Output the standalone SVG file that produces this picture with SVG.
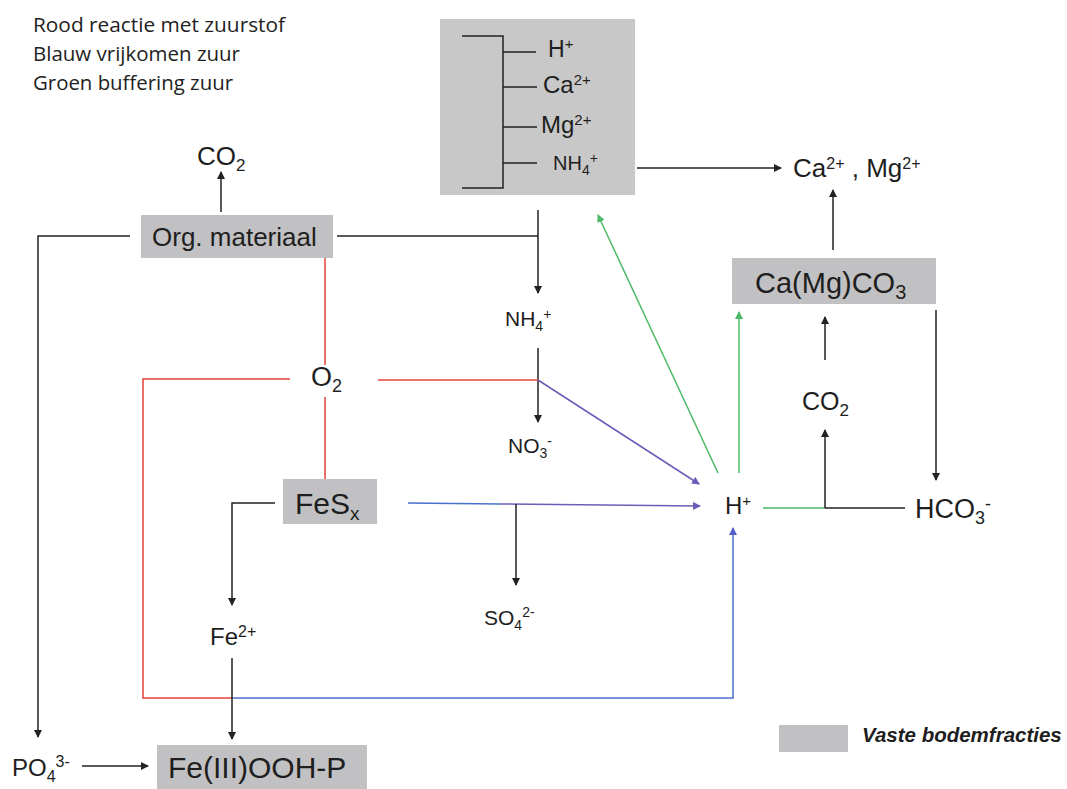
<svg xmlns="http://www.w3.org/2000/svg" width="1067" height="789" viewBox="0 0 1067 789">
<style>
.t{font-family:"Liberation Sans",Arial,sans-serif;fill:#1e1e1e}
.lg{font-family:"Open Sans","Liberation Sans",sans-serif;fill:#222;font-size:20px}
.box{fill:#c1c1c3}
.k{stroke:#222;stroke-width:1.5;fill:none}
.r{stroke:#e8403a;stroke-width:1.5;fill:none}
.b{stroke:#4a70cf;stroke-width:1.5;fill:none}
.p{stroke:#6a5db8;stroke-width:1.5;fill:none}
.g{stroke:#4cba66;stroke-width:1.5;fill:none}
</style>
<defs>
<marker id="ak" markerWidth="8" markerHeight="8" refX="7" refY="4" orient="auto" markerUnits="userSpaceOnUse"><path d="M0,0 L8,4 L0,8 z" fill="#222"/></marker>
<marker id="ab" markerWidth="8" markerHeight="8" refX="7" refY="4" orient="auto" markerUnits="userSpaceOnUse"><path d="M0,0 L8,4 L0,8 z" fill="#5260c8"/></marker>
<marker id="ap" markerWidth="8" markerHeight="8" refX="7" refY="4" orient="auto" markerUnits="userSpaceOnUse"><path d="M0,0 L8,4 L0,8 z" fill="#6a5db8"/></marker>
<marker id="ag" markerWidth="8" markerHeight="8" refX="7" refY="4" orient="auto" markerUnits="userSpaceOnUse"><path d="M0,0 L8,4 L0,8 z" fill="#4cba66"/></marker>
</defs>

<g id="legend-top">
<text class="lg" x="33" y="32" textLength="252" lengthAdjust="spacingAndGlyphs">Rood reactie met zuurstof</text>
<text class="lg" x="33" y="61" textLength="207" lengthAdjust="spacingAndGlyphs">Blauw vrijkomen zuur</text>
<text class="lg" x="33" y="90" textLength="200" lengthAdjust="spacingAndGlyphs">Groen buffering zuur</text>
</g>

<g id="exchange-complex">
<rect x="440" y="19" width="195" height="176" fill="#c8c8c8"/>
<path class="k" d="M462,36 H503 V188 H462 M503,52 H536 M503,87 H537 M503,127 H537 M503,163 H537"/>
<text class="t" x="548" y="57" font-size="23">H<tspan dy="-8" font-size="15">+</tspan></text>
<text class="t" x="543" y="93" font-size="24">Ca<tspan dy="-8" font-size="15">2+</tspan></text>
<text class="t" x="541" y="133" font-size="24">Mg<tspan dy="-8" font-size="15">2+</tspan></text>
<text class="t" x="553" y="170" font-size="20">NH<tspan dy="5" font-size="14">4</tspan><tspan dy="-12" font-size="14">+</tspan></text>
</g>

<g id="co2-top"><text class="t" x="197" y="165" font-size="26">CO<tspan dy="6" font-size="17">2</tspan></text></g>

<g id="org"><rect class="box" x="141" y="215" width="192" height="43"/>
<text class="t" x="152" y="246" font-size="26">Org. materiaal</text></g>

<g id="ca-mg"><text class="t" x="793" y="177" font-size="26">Ca<tspan dy="-8" font-size="16">2+</tspan><tspan dy="8"> , Mg</tspan><tspan dy="-8" font-size="16">2+</tspan></text></g>

<g id="camgco3"><rect class="box" x="732" y="258" width="204" height="46"/>
<text class="t" x="755" y="293" font-size="29">Ca(Mg)CO<tspan dy="6" font-size="20">3</tspan></text></g>

<g id="nh4"><text class="t" x="505" y="326" font-size="21">NH<tspan dy="5" font-size="14">4</tspan><tspan dy="-12" font-size="14">+</tspan></text></g>

<g id="o2"><text class="t" x="311" y="386" font-size="27">O<tspan dy="6" font-size="18">2</tspan></text></g>

<g id="no3"><text class="t" x="508" y="453" font-size="21">NO<tspan dy="5" font-size="14">3</tspan><tspan dy="-12" font-size="14">-</tspan></text></g>

<g id="co2-right"><text class="t" x="802" y="410" font-size="25">CO<tspan dy="6" font-size="17">2</tspan></text></g>

<g id="hplus"><text class="t" x="725" y="514" font-size="24">H<tspan dy="-8" font-size="15">+</tspan></text></g>

<g id="hco3"><text class="t" x="915" y="518" font-size="27">HCO<tspan dy="6" font-size="18">3</tspan><tspan dy="-14" font-size="18">-</tspan></text></g>

<g id="fesx"><rect class="box" x="283" y="479" width="94" height="45"/>
<text class="t" x="295" y="514" font-size="30">FeS<tspan dy="6" font-size="19">x</tspan></text></g>

<g id="so4"><text class="t" x="484" y="625" font-size="21">SO<tspan dy="5" font-size="14">4</tspan><tspan dy="-13" font-size="14">2-</tspan></text></g>

<g id="fe2"><text class="t" x="210" y="645" font-size="24">Fe<tspan dy="-8" font-size="16">2+</tspan></text></g>

<g id="po4"><text class="t" x="12" y="776" font-size="24">PO<tspan dy="6" font-size="16">4</tspan><tspan dy="-15" font-size="16">3-</tspan></text></g>

<g id="feooh"><rect class="box" x="157" y="745" width="210" height="44"/>
<text class="t" x="168" y="778" font-size="30">Fe(III)OOH-P</text></g>

<g id="legend-bottom"><rect x="779" y="725" width="69" height="27" fill="#c1c1c4"/>
<text class="t" x="862" y="742" font-size="20.5" font-weight="bold" font-style="italic">Vaste bodemfracties</text></g>

<g id="connectors">
<path class="k" d="M221,212 V172" marker-end="url(#ak)"/>
<path class="k" d="M130,236 H38 V737" marker-end="url(#ak)"/>
<path class="k" d="M337,236 H538"/>
<path class="k" d="M538,210 V293" marker-end="url(#ak)"/>
<path class="k" d="M637,168 H781" marker-end="url(#ak)"/>
<path class="k" d="M538,348 V422" marker-end="url(#ak)"/>
<path class="r" d="M378,380 H538"/>
<path class="p" d="M538,380 L699,484" marker-end="url(#ap)"/>
<path class="r" d="M290,379 H143 V698 H232"/>
<path class="b" d="M232,698 H733 V528" marker-end="url(#ab)"/>
<path class="r" d="M325,258 V365 M325,397 V479"/>
<path class="k" d="M275,503 H232 V605" marker-end="url(#ak)"/>
<path class="k" d="M232,658 V739" marker-end="url(#ak)"/>
<path class="k" d="M82,766 H148" marker-end="url(#ak)"/>
<path class="b" d="M408,503 L500,504"/>
<path class="p" d="M500,504 L700,506" marker-end="url(#ap)"/>
<path class="k" d="M516,504 V585" marker-end="url(#ak)"/>
<path class="g" d="M718,473 L598,215" marker-end="url(#ag)"/>
<path class="g" d="M739,473 V312" marker-end="url(#ag)"/>
<path class="g" d="M763,508 H825"/>
<path class="k" d="M825,508 H905"/>
<path class="k" d="M825,508 V430" marker-end="url(#ak)"/>
<path class="k" d="M825,360 V317" marker-end="url(#ak)"/>
<path class="k" d="M833,250 V190" marker-end="url(#ak)"/>
<path class="k" d="M936,310 V480" marker-end="url(#ak)"/>
</g>
</svg>
